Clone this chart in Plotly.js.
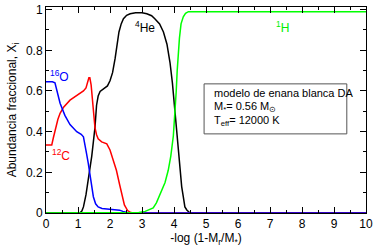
<!DOCTYPE html>
<html>
<head>
<meta charset="utf-8">
<script src="https://cdn.plot.ly/plotly-3.0.1.min.js"></script>
<style>html,body{margin:0;padding:0;background:#fff;}#chart{width:374px;height:247px;}</style>
</head>
<body>
<div id="chart"></div>
<script>
// 16O (blue)
const xO = [0, 0.2, 0.28, 0.35, 0.44, 0.59, 0.75, 0.96, 1.1, 1.17, 1.22, 1.27, 1.32, 1.375, 1.43, 1.48, 1.55, 1.63, 1.75, 1.9, 2.05, 2.2, 2.3, 2.4, 2.5, 2.6, 10];
const yO = [0.645, 0.645, 0.64, 0.6, 0.54, 0.48, 0.435, 0.40, 0.387, 0.375, 0.34, 0.29, 0.245, 0.18, 0.12, 0.08, 0.045, 0.03, 0.022, 0.02, 0.02, 0.018, 0.014, 0.008, 0.003, 0, 0];
// 12C (red)
const xC = [0, 0.18, 0.23, 0.3, 0.37, 0.44, 0.55, 0.75, 1.0, 1.17, 1.25, 1.3, 1.34, 1.37, 1.41, 1.45, 1.48, 1.53, 1.58, 1.63, 1.74, 1.9, 2.0, 2.1, 2.2, 2.3, 2.38, 2.45, 2.55, 2.65, 2.75, 10];
const yC = [0.335, 0.335, 0.37, 0.42, 0.46, 0.49, 0.52, 0.555, 0.58, 0.60, 0.615, 0.645, 0.665, 0.665, 0.63, 0.56, 0.5, 0.42, 0.385, 0.365, 0.35, 0.34, 0.31, 0.26, 0.21, 0.14, 0.08, 0.04, 0.012, 0.002, 0, 0];
// 4He (black)
const xHe = [0, 1.05, 1.12, 1.17, 1.25, 1.32, 1.38, 1.43, 1.48, 1.53, 1.58, 1.63, 1.69, 1.76, 1.84, 1.92, 2.0, 2.08, 2.16, 2.22, 2.28, 2.35, 2.42, 2.52, 2.63, 2.8, 3.0, 3.15, 3.3, 3.4, 3.55, 3.67, 3.78, 3.875, 3.95, 4.03, 4.08, 4.13, 4.19, 4.24, 4.29, 4.34, 4.4, 4.45, 4.5, 10];
const yHe = [0, 0, 0.01, 0.03, 0.09, 0.16, 0.22, 0.28, 0.35, 0.42, 0.53, 0.575, 0.598, 0.607, 0.614, 0.625, 0.65, 0.69, 0.76, 0.83, 0.89, 0.93, 0.955, 0.972, 0.98, 0.985, 0.985, 0.98, 0.97, 0.955, 0.93, 0.89, 0.83, 0.74, 0.64, 0.5, 0.41, 0.31, 0.2, 0.13, 0.08, 0.03, 0.015, 0.008, 0, 0];
// 1H (green)
const xH = [0, 2.6, 2.9, 3.1, 3.25, 3.35, 3.45, 3.56, 3.65, 3.72, 3.82, 3.9, 3.98, 4.03, 4.07, 4.1, 4.14, 4.17, 4.22, 4.29, 4.36, 4.45, 4.6, 10];
const yH = [0, 0, 0.002, 0.008, 0.018, 0.025, 0.05, 0.09, 0.12, 0.15, 0.21, 0.28, 0.38, 0.48, 0.6, 0.7, 0.8, 0.86, 0.93, 0.965, 0.982, 0.99, 0.99, 0.99];

const xTicks = [0,1,2,3,4,5,6,7,8,9,10];
const yTicks = [0,0.2,0.4,0.6,0.8,1];
const yTickText = ['0','0.2','0.4','0.6','0.8','1'];

const FONT = 'Liberation Sans, Arial, Helvetica, sans-serif';

const traces = [
  {x: xHe, y: yHe, mode: 'lines', line: {color: '#000000', width: 1.5}},
  {x: xC, y: yC, mode: 'lines', line: {color: '#ff0000', width: 1.5}},
  {x: xO, y: yO, mode: 'lines', line: {color: '#0000ff', width: 1.5}},
  {x: xH, y: yH, mode: 'lines', line: {color: '#00ff00', width: 1.5}}
];

const ann = (x, y, text, color, size, xanchor) => ({
  x: x, y: y, xref: 'x', yref: 'y', text: text, showarrow: false,
  font: {family: FONT, size: size, color: color}, xanchor: xanchor || 'center', yanchor: 'middle'
});

const layout = {
  width: 374, height: 247,
  margin: {l: 46, r: 8, t: 7, b: 34},
  paper_bgcolor: '#fff', plot_bgcolor: '#fff',
  showlegend: false,
  font: {family: FONT, size: 12, color: '#000'},
  xaxis: {
    range: [0, 10], tickvals: xTicks, ticktext: xTicks.map(String),
    ticks: 'inside', ticklen: 6, tickwidth: 1, tickcolor: '#000',
    showline: true, linecolor: '#000', linewidth: 1, mirror: 'ticks',
    showgrid: false, zeroline: false,
    minor: {dtick: 0.5, ticks: 'inside', ticklen: 3, tickcolor: '#000', showgrid: false},
    tickfont: {family: FONT, size: 12},
    title: {text: '-log (1-M<sub>r</sub>/M<sub>*</sub>)', font: {family: FONT, size: 12}, standoff: 4}
  },
  yaxis: {
    range: [0, 1.013], tickvals: yTicks, ticktext: yTickText,
    ticks: 'inside', ticklen: 6, tickwidth: 1, tickcolor: '#000',
    showline: true, linecolor: '#000', linewidth: 1, mirror: 'ticks',
    showgrid: false, zeroline: false,
    minor: {dtick: 0.1, ticks: 'inside', ticklen: 3, tickcolor: '#000', showgrid: false},
    tickfont: {family: FONT, size: 12},
    title: {text: 'Abundancia fraccional, X<sub>i</sub>', font: {family: FONT, size: 12}, standoff: 6}
  },
  shapes: [
    {type: 'rect', xref: 'x', yref: 'y', x0: 4.94, x1: 9.4, y0: 0.389, y1: 0.635,
     line: {color: '#555', width: 1}, fillcolor: 'rgba(0,0,0,0)'}
  ],
  annotations: [
    ann(0.41, 0.675, '<sup>16</sup>O', '#0000ff', 12),
    ann(0.47, 0.285, '<sup>12</sup>C', '#ff0000', 12),
    ann(3.08, 0.915, '<sup>4</sup>He', '#000000', 12),
    ann(7.4, 0.915, '<sup>1</sup>H', '#00ee00', 12),
    ann(5.2, 0.591, 'modelo de enana blanca DA', '#000', 11, 'left'),
    ann(5.2, 0.522, 'M<sub>*</sub>= 0.56 M<sub>⊙</sub>', '#000', 11, 'left'),
    ann(5.2, 0.453, 'T<sub>eff</sub>= 12000 K', '#000', 11, 'left')
  ]
};

Plotly.newPlot('chart', traces, layout, {staticPlot: true, displayModeBar: false});
</script>
</body>
</html>
